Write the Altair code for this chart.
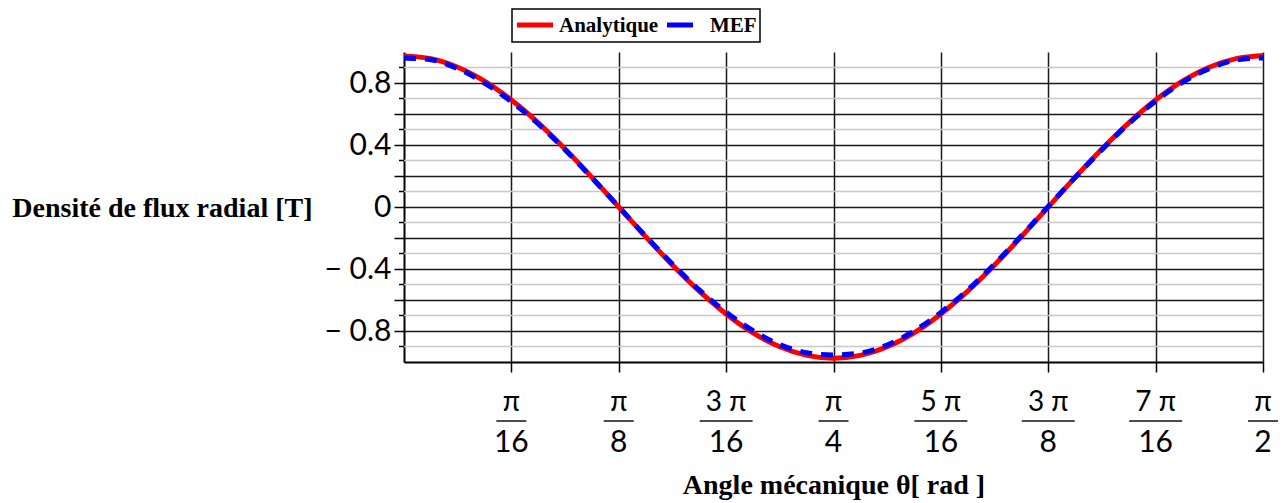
import altair as alt
import numpy as np
import pandas as pd

PI = np.pi

# Curve samples at theta = k*pi/64, k = 0..32
theta_steps = list(range(33))
analytique = [0.975, 0.957, 0.902, 0.812, 0.690, 0.543, 0.374, 0.191, 0.000,
              -0.191, -0.374, -0.543, -0.690, -0.812, -0.902, -0.957, -0.975,
              -0.957, -0.902, -0.812, -0.690, -0.543, -0.374, -0.191, 0.000,
              0.191, 0.374, 0.543, 0.690, 0.812, 0.902, 0.957, 0.978]
mef = [0.962, 0.950, 0.893, 0.800, 0.680, 0.536, 0.370, 0.188, 0.002,
       -0.188, -0.368, -0.535, -0.678, -0.798, -0.888, -0.940, -0.955,
       -0.942, -0.890, -0.800, -0.680, -0.535, -0.368, -0.186, 0.004,
       0.190, 0.370, 0.538, 0.683, 0.804, 0.893, 0.948, 0.962]

# x ticks at k*pi/16
tick_k = [1, 2, 3, 4, 5, 6, 7, 8]
tick_num = ["π", "π", "3 π", "π", "5 π", "3 π", "7 π", "π"]
tick_den = ["16", "8", "16", "4", "16", "8", "16", "2"]

y_major = [-0.8, -0.6, -0.4, -0.2, 0.0, 0.2, 0.4, 0.6, 0.8]
y_minor = [-0.9, -0.7, -0.5, -0.3, -0.1, 0.1, 0.3, 0.5, 0.7, 0.9]

series_names = ["Analytique", "MEF"]

curve = pd.DataFrame({
    "theta": [k * PI / 64 for k in theta_steps],
    "ana": analytique,
    "mef": mef,
})
ticks = pd.DataFrame({
    "pos": [k * PI / 16 for k in tick_k],
    "num": tick_num,
    "den": tick_den,
})
minor = pd.DataFrame({"v": y_minor})
one = pd.DataFrame({"a": [0]})

xscale = alt.Scale(domain=[0, PI / 2], nice=False, zero=False)
yscale = alt.Scale(domain=[-1, 1], nice=False, zero=False)

SERIF = "Liberation Serif"
SANS = "Lato"

x_axis = alt.Axis(
    values=[k * PI / 16 for k in tick_k], labels=False,
    tickSize=10, tickColor="black", tickWidth=1.5,
    grid=True, gridColor="#1a1a1a", gridWidth=1.5,
    domainColor="black", domainWidth=2,
    title="Angle mécanique θ[ rad ]", titleFont=SERIF, titleFontWeight="bold",
    titleFontSize=28, titleColor="black", titleY=123, titleBaseline="middle",
)
y_axis = alt.Axis(
    values=y_major,
    labelExpr="round(datum.value*10) % 4 == 0 ? (datum.value < -0.01 ? '− ' + format(abs(datum.value), '.1f') : (abs(datum.value) < 0.01 ? '0' : format(datum.value, '.1f'))) : ''",
    labelFont=SANS, labelFontSize=30, labelColor="black", labelPadding=3,
    tickSize=10, tickColor="black", tickWidth=1.5,
    grid=True, gridColor="#1a1a1a", gridWidth=1.5,
    domainColor="black", domainWidth=2,
    title="Densité de flux radial [T]", titleFont=SERIF, titleFontWeight="bold",
    titleFontSize=28, titleColor="black", titleAngle=0, titleX=-92, titleY=156,
    titleAlign="right", titleBaseline="middle",
)


def X(field):
    return alt.X(field, type="quantitative", scale=xscale, axis=x_axis)


def Y(field):
    return alt.Y(field, type="quantitative", scale=yscale, axis=y_axis)


minor_grid = alt.Chart(minor).mark_rule(color="#c8c8c8", strokeWidth=1.5).encode(
    y=Y("v")
)
minor_ticks = alt.Chart(minor).mark_rule(color="black", strokeWidth=1.5).encode(
    x=alt.value(-5), x2=alt.value(0), y=Y("v"),
)

red = alt.Chart(curve).mark_line(color="#ff0000", strokeWidth=5, interpolate="monotone").encode(
    x=X("theta"), y=Y("ana"),
)
blue = alt.Chart(curve).mark_line(color="#0000ff", strokeWidth=5, strokeDash=[12, 9],
                                  interpolate="monotone").encode(
    x=X("theta"), y=Y("mef"),
)

num_text = alt.Chart(ticks).mark_text(font=SANS, fontSize=28, color="black",
                                      baseline="middle", align="center").encode(
    x=X("pos"), y=alt.value(351), text="num:N"
)
den_text = alt.Chart(ticks).mark_text(font=SANS, fontSize=30, color="black",
                                      baseline="middle", align="center").encode(
    x=X("pos"), y=alt.value(391), text="den:N"
)
bars = alt.Chart(ticks).transform_calculate(
    bw="length(datum.num) > 1 ? 53 : 30"
).mark_tick(orient="horizontal", thickness=2, color="black").encode(
    x=X("pos"), y=alt.value(369),
    size=alt.Size("bw:Q", scale=None, legend=None),
)

# Legend
leg_box = alt.Chart(one).mark_rect(fill="white", stroke="black", strokeWidth=1.5).encode(
    x=alt.value(108), x2=alt.value(356), y=alt.value(-43), y2=alt.value(-10)
)
leg_red = alt.Chart(one).mark_rule(color="#ff0000", strokeWidth=5).encode(
    x=alt.value(113), x2=alt.value(149), y=alt.value(-27)
)
leg_blue = alt.Chart(one).mark_rule(color="#0000ff", strokeWidth=5).encode(
    x=alt.value(263), x2=alt.value(289), y=alt.value(-27)
)
leg_t1 = alt.Chart(one).mark_text(text=series_names[0], font=SERIF, fontWeight="bold",
                                  fontSize=21, align="left", baseline="middle", color="black").encode(
    x=alt.value(155), y=alt.value(-26)
)
leg_t2 = alt.Chart(one).mark_text(text=series_names[1], font=SERIF, fontWeight="bold",
                                  fontSize=21, align="left", baseline="middle", color="black").encode(
    x=alt.value(306), y=alt.value(-26)
)

chart = alt.layer(
    minor_grid, minor_ticks, red, blue, num_text, den_text, bars,
    leg_box, leg_red, leg_blue, leg_t1, leg_t2,
).properties(
    width=859, height=310,
    autosize=alt.AutoSizeParams(type="none"),
    padding={"left": 404, "top": 52, "right": 25, "bottom": 141},
    background="white",
).configure_view(stroke=None)

chart.save("out.html", embed_options={"renderer": "svg", "actions": False})
